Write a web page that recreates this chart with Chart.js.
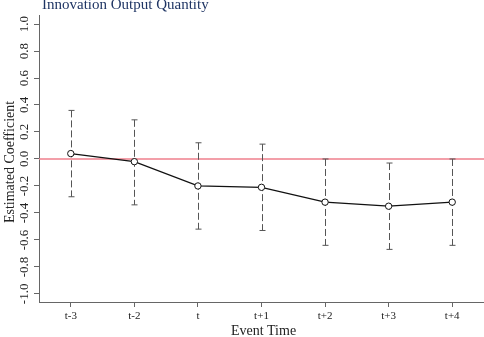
<!DOCTYPE html>
<html>
<head>
<meta charset="utf-8">
<script src="https://cdn.jsdelivr.net/npm/chart.js@4/dist/chart.umd.min.js"></script>
<style>
  html, body { margin: 0; padding: 0; background: #fff; }
  #wrap { width: 484px; height: 337px; position: relative; }
</style>
</head>
<body>
<div id="wrap"><canvas id="eventChart"></canvas></div>
<script>
// Event study: innovation output quantity

const eventTimes = ['t-3', 't-2', 't', 't+1', 't+2', 't+3', 't+4'];
const coefficients = [0.04, -0.02, -0.20, -0.21, -0.32, -0.35, -0.32];
const ciUpper = [0.36, 0.29, 0.12, 0.11, 0.00, -0.03, 0.00];
const ciLower = [-0.28, -0.34, -0.52, -0.53, -0.64, -0.67, -0.64];
const yTickValues = [-1.0, -0.8, -0.6, -0.4, -0.2, 0.0, 0.2, 0.4, 0.6, 0.8, 1.0];

const serif = '"Liberation Serif", "DejaVu Serif", serif';
const axisGray = '#666666';

// Reference line at zero and the dashed confidence intervals
const errorBarPlugin = {
    id: 'errorBars',
    beforeDatasetsDraw(chart) {
        const ctx = chart.ctx;
        const x = chart.scales.x;
        const y = chart.scales.y;
        const area = chart.chartArea;

        // red zero line
        ctx.save();
        ctx.strokeStyle = '#ef7f8c';
        ctx.lineWidth = 1.5;
        ctx.beginPath();
        ctx.moveTo(area.left, y.getPixelForValue(0));
        ctx.lineTo(area.right, y.getPixelForValue(0));
        ctx.stroke();

        ctx.strokeStyle = '#555555';
        ctx.lineWidth = 1;
        eventTimes.forEach((t, i) => {
            const px = Math.round(x.getPixelForValue(i)) + 0.5;
            const top = y.getPixelForValue(ciUpper[i]);
            const bottom = y.getPixelForValue(ciLower[i]);
            ctx.setLineDash([7, 3]);
            ctx.beginPath();
            ctx.moveTo(px, top);
            ctx.lineTo(px, bottom);
            ctx.stroke();
            ctx.setLineDash([]);
            ctx.beginPath();
            ctx.moveTo(px - 3, top);
            ctx.lineTo(px + 3, top);
            ctx.moveTo(px - 3, bottom);
            ctx.lineTo(px + 3, bottom);
            ctx.stroke();
        });
        ctx.restore();
    },
    afterDraw(chart) {
        const ctx = chart.ctx;
        const y = chart.scales.y;
        const area = chart.chartArea;
        ctx.save();

        // title
        ctx.fillStyle = '#1f3564';
        ctx.font = '15px ' + serif;
        ctx.textAlign = 'left';
        ctx.textBaseline = 'alphabetic';
        ctx.fillText('Innovation Output Quantity', 42, 9);

        // rotated y tick labels
        ctx.fillStyle = '#222222';
        ctx.font = '13px ' + serif;
        ctx.textAlign = 'center';
        ctx.textBaseline = 'middle';
        yTickValues.forEach(v => {
            ctx.save();
            ctx.translate(25, y.getPixelForValue(v));
            ctx.rotate(-Math.PI / 2);
            ctx.fillText(v.toFixed(1), 0, 0);
            ctx.restore();
        });

        // y axis title
        ctx.font = '14px ' + serif;
        ctx.save();
        ctx.translate(10, y.getPixelForValue(0) + 3);
        ctx.rotate(-Math.PI / 2);
        ctx.fillText('Estimated Coefficient', 0, 0);
        ctx.restore();

        // x axis title
        ctx.fillText('Event Time', (area.left + area.right) / 2 + 2, 331);
        ctx.restore();
    }
};

const ctx = document.getElementById('eventChart').getContext('2d');
new Chart(ctx, {
    type: 'line',
    data: {
        labels: eventTimes,
        datasets: [{
            label: 'Estimated Coefficient',
            data: coefficients,
            borderColor: '#111111',
            borderWidth: 1.3,
            pointRadius: 3.2,
            pointBorderWidth: 1,
            pointBackgroundColor: '#ffffff',
            pointBorderColor: '#111111',
            tension: 0,
            fill: false
        }]
    },
    options: {
        responsive: true,
        maintainAspectRatio: false,
        animation: false,
        layout: {
            autoPadding: false,
            padding: { top: 15, left: 0, right: 0, bottom: 0 }
        },
        plugins: {
            legend: { display: false },
            title: { display: false },
            tooltip: { enabled: false }
        },
        scales: {
            x: {
                type: 'category',
                offset: true,
                afterFit(scale) { scale.height = 35; },
                border: { display: true, color: axisGray, width: 1 },
                grid: {
                    drawOnChartArea: false,
                    drawTicks: true,
                    tickLength: 5,
                    color: axisGray
                },
                ticks: {
                    color: '#222222',
                    font: { family: serif, size: 11 },
                    padding: 3,
                    maxRotation: 0,
                    autoSkip: false
                }
            },
            y: {
                min: -1.06,
                max: 1.067,
                afterFit(scale) { scale.width = 39; },
                afterBuildTicks(scale) {
                    scale.ticks = yTickValues.map(v => ({ value: v }));
                },
                border: { display: true, color: axisGray, width: 1 },
                grid: {
                    drawOnChartArea: false,
                    drawTicks: true,
                    tickLength: 5,
                    color: axisGray
                },
                ticks: { display: false }
            }
        }
    },
    plugins: [errorBarPlugin]
});
</script>
</body>
</html>
